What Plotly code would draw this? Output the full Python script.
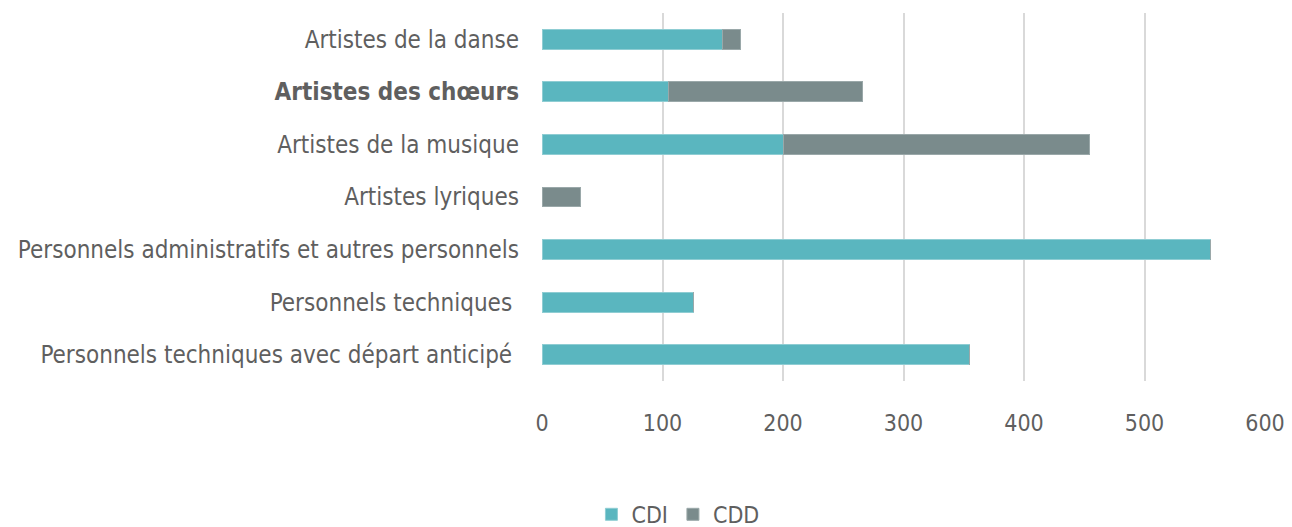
import plotly.graph_objects as go

categories = [
    "Artistes de la danse",
    "<b>Artistes des chœurs</b>",
    "Artistes de la musique",
    "Artistes lyriques",
    "Personnels administratifs et autres personnels",
    "Personnels techniques ",
    "Personnels techniques avec départ anticipé ",
]
cdi = [150, 105, 200, 0, 555, 126, 355]
cdd = [15, 161, 254, 32, 0, 0, 0]
xticks = [0, 100, 200, 300, 400, 500, 600]

FONT = "Liberation Sans Narrow, DejaVu Sans Condensed, Roboto Condensed, Arial Narrow, sans-serif"
TXT = "#5f5f5f"

fig = go.Figure()
fig.add_trace(go.Bar(y=categories, x=cdi, name="CDI", orientation="h",
                     marker=dict(color="#5AB6BF", line=dict(color="#8FCDD3", width=1)),
                     width=0.38))
fig.add_trace(go.Bar(y=categories, x=cdd, name="CDD", orientation="h",
                     marker=dict(color="#7A8B8C", line=dict(color="#9AA8A9", width=1)),
                     width=0.38))

fig.update_layout(
    barmode="stack",
    width=1292, height=527,
    margin=dict(l=542, r=27, t=13, b=146, autoexpand=False),
    paper_bgcolor="white", plot_bgcolor="white",
    font=dict(family=FONT, color=TXT, size=24),
    showlegend=True,
    legend=dict(orientation="h", x=0.188, xanchor="center",
                yref="container", y=0.024, yanchor="middle",
                font=dict(size=23, color=TXT), traceorder="normal",
                itemwidth=30),
    bargap=0.62,
)
fig.update_xaxes(range=[0, 600], tickvals=xticks, showgrid=True, gridcolor="#D9D9D9",
                 gridwidth=2, zeroline=False, showline=False, automargin=False,
                 ticklabeloverflow="allow",
                 tickfont=dict(size=23, color=TXT), ticklabelstandoff=26)
fig.update_yaxes(autorange="reversed", showgrid=False, showline=False, zeroline=False,
                 automargin=False,
                 tickfont=dict(size=24, color=TXT), ticklabelstandoff=22)

fig.write_html("out.html", config={"displayModeBar": False},
               post_script="document.body.style.margin='0px';")
